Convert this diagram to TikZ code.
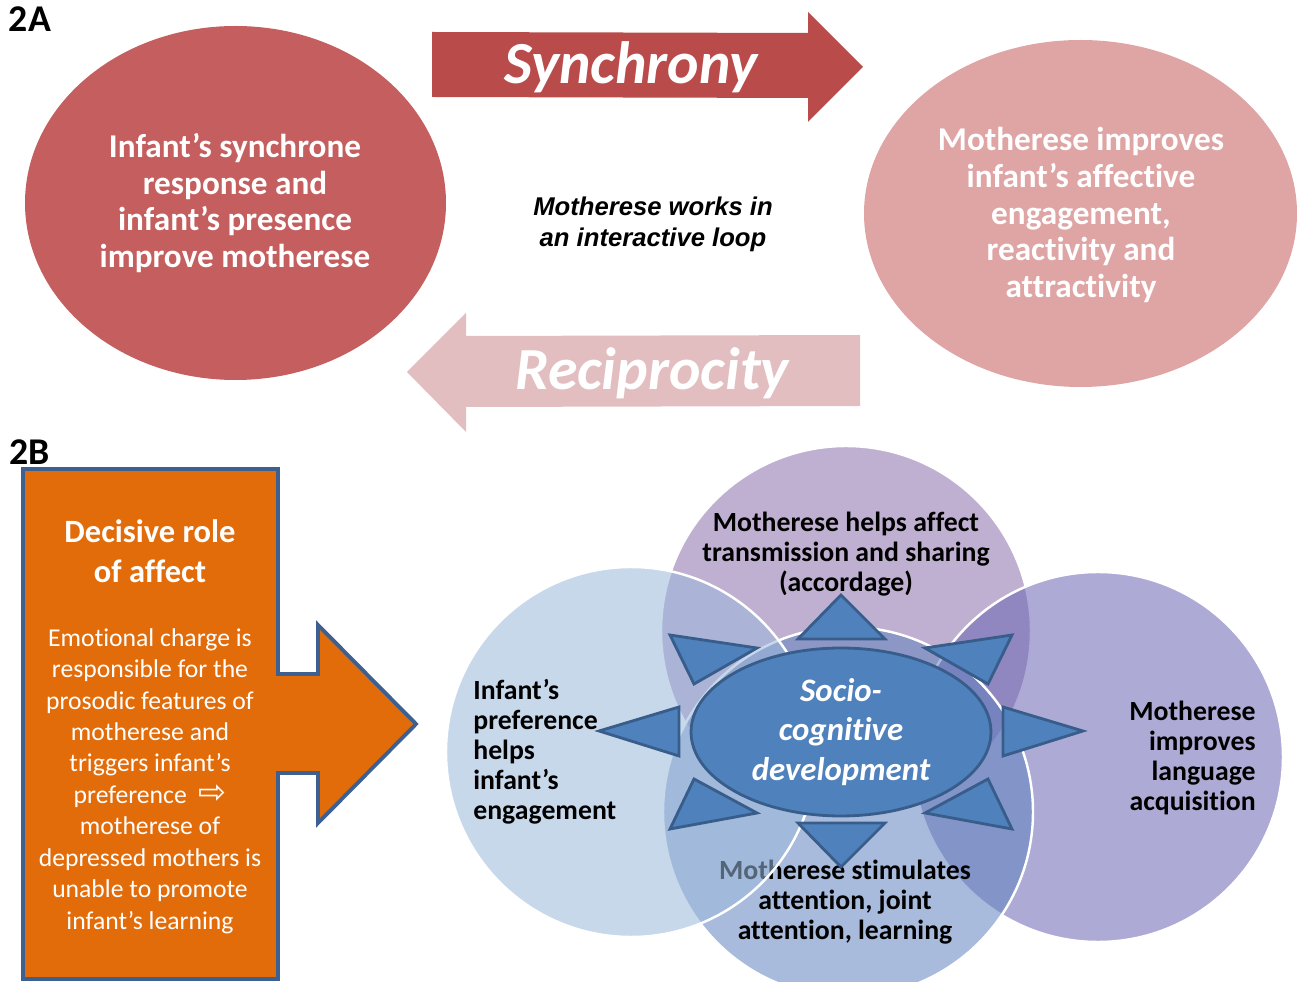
\documentclass[tikz,border=0pt]{standalone}
\usepackage{fontspec}
\setmainfont{Carlito}[Ligatures=NoCommon]
\newfontfamily\loopfont{Liberation Sans}
\newfontfamily\arrowsym{DejaVu Sans}
\usetikzlibrary{shapes.geometric}

\definecolor{ovalred}{RGB}{197,94,94}
\definecolor{ovalpink}{RGB}{223,165,165}
\definecolor{synchred}{RGB}{185,75,75}
\definecolor{recippink}{RGB}{226,190,192}
\definecolor{affectorange}{RGB}{227,108,10}
\definecolor{affectedge}{RGB}{62,96,145}
\definecolor{devblue}{RGB}{79,129,189}
\definecolor{devedge}{RGB}{56,93,138}
\definecolor{prefblue}{RGB}{155,184,219}
\definecolor{sharemauve}{RGB}{139,110,170}
\definecolor{langviolet}{RGB}{106,100,179}
\definecolor{attnblue}{RGB}{97,131,191}

\tikzset{
  panellabel/.style={font=\fontsize{21.5}{24}\selectfont\bfseries, inner sep=0pt},
  ovaltext/.style={text=white, align=center, inner sep=0pt,
    font=\fontsize{18.9}{21}\selectfont\bfseries},
  looptext/.style={align=center, inner sep=0pt,
    font=\fontsize{14.6}{17.6}\selectfont\loopfont\bfseries\itshape},
  arrowlabel/.style={text=white, inner sep=0pt,
    font=\fontsize{34}{36}\selectfont\bfseries\itshape},
  affecttitle/.style={text=white, align=center, inner sep=0pt,
    font=\fontsize{18.5}{22.7}\selectfont\bfseries},
  affectbody/.style={text=white, align=center, inner sep=0pt,
    font=\fontsize{14.6}{17.9}\selectfont},
  venncircle/.style={fill=#1, fill opacity=0.55, draw=white, draw opacity=1,
    line width=1.4pt},
  venntext/.style={inner sep=0pt, font=\fontsize{15.8}{17.1}\selectfont\bfseries},
  sunray/.style={fill=devblue, draw=devedge, line width=1.6pt, line join=miter},
  corelabel/.style={ellipse, fill=devblue, draw=devedge, line width=1.6pt,
    minimum width=6cm, minimum height=3.36cm, inner sep=0pt, text=white,
    align=center, font=\fontsize{18.7}{22.7}\selectfont\bfseries\itshape}
}

\begin{document}
\begin{tikzpicture}[x=0.02cm, y=-0.02cm]
  \useasboundingbox (0,0) rectangle (1299,982);
  \clip (0,0) rectangle (1299,982);

  % panel 2A: the interactive loop
  \node[panellabel] (labelA) at (30,19) {2A};
  \fill[ovalred] (235.5,203) ellipse [x radius=210.5, y radius=177];
  \fill[ovalpink] (1080.5,213.5) ellipse [x radius=216.5, y radius=173.5];
  \node[ovaltext] (infantresp) at (235,203)
    {Infant’s synchrone\\response and\\infant’s presence\\improve motherese};
  \node[ovaltext] (mothimpr) at (1081,215)
    {Motherese improves\\infant’s affective\\engagement,\\reactivity and\\attractivity};
  \fill[synchred] (432,32) -- (808,33) -- (808,12) -- (863,67) -- (808,122)
    -- (808,98) -- (432,97) -- cycle;
  \fill[recippink] (860,335) -- (466,336) -- (466,313) -- (407,372)
    -- (466,432) -- (466,407) -- (860,406) -- cycle;
  \node[arrowlabel] (synch) at (631,67) {Synchrony};
  \node[arrowlabel] (recip) at (652,373) {Reciprocity};
  \node[looptext] (loop) at (653,224) {Motherese works in\\an interactive loop};

  % panel 2B: decisive role of affect
  \node[panellabel] (labelB) at (30,452) {2B};
  \filldraw[fill=affectorange, draw=affectedge, line width=2.2pt, line join=miter]
    (23,469) -- (278,469) -- (278,674) -- (318,674) -- (318,625) -- (416,724)
    -- (318,823) -- (318,773) -- (278,773) -- (278,979) -- (23,979) -- cycle;
  \node[affecttitle] (affect) at (150,551) {Decisive role\\of affect};
  \node[affectbody] (charge) at (150,781)
    {Emotional charge is\\responsible for the\\prosodic features of\\motherese and\\
     triggers infant’s\\preference\ \ {\arrowsym\fontsize{19}{17.9}\selectfont ⇨}\\motherese of\\
     depressed mothers is\\unable to promote\\infant’s learning};

  % the four overlapping circles
  \draw[venncircle=sharemauve] (846,631) circle (185);
  \draw[venncircle=langviolet] (1098,757) circle (185);
  \draw[venncircle=attnblue] (848,812) circle (185);
  \node[venntext, align=center] (attn) at (845,902)
    {Motherese stimulates\\attention, joint\\attention, learning};
  \draw[venncircle=prefblue] (631,752) circle (185);

  \node[venntext, align=center] (share) at (846,554)
    {Motherese helps affect\\transmission and sharing\\(accordage)};
  \node[venntext, align=left, anchor=west] (pref) at (473,752)
    {Infant’s\\preference\\helps\\infant’s\\engagement};
  \node[venntext, align=right, anchor=east] (lang) at (1256,758)
    {Motherese\\improves\\language\\acquisition};

  % socio-cognitive core with its rays
  \node[corelabel] (core) at (841,732) {Socio-\\cognitive\\development};
  \foreach \ax/\ay/\bx/\by/\tx/\ty in {
      798/639/885/639/841/595, 798/823/885/823/841/867,
      679/707/679/756/599/731, 1003/707/1003/756/1083/731,
      670/635/757/648/694/684, 1012/635/925/648/988/684,
      670/829/757/813/694/779, 1012/829/925/813/988/779}
    \draw[sunray] (\ax,\ay) -- (\bx,\by) -- (\tx,\ty) -- cycle;
\end{tikzpicture}
\end{document}
